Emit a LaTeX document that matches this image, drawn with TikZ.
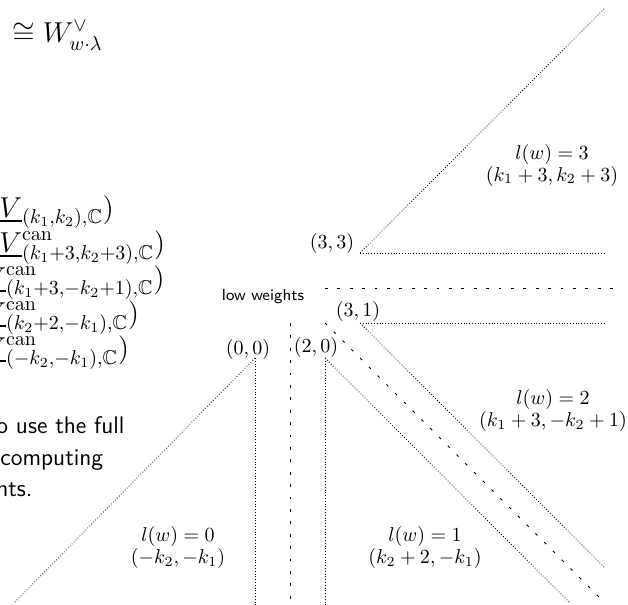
\documentclass[tikz,border=0pt]{standalone}
\usepackage{amssymb}
\begin{document}
\begin{tikzpicture}[x=0.5pt,y=-0.5pt,
  wall/.style={densely dotted, line width=0.4pt},
  lowwall/.style={dash pattern=on 1.4pt off 4.8pt, line width=0.5pt},
  lab/.style={inner sep=0pt, font=\fontsize{10}{12}\selectfont},
  chamber/.style={align=center, inner sep=0pt, font=\fontsize{10}{9.5}\selectfont},
  formula/.style={anchor=base west, inner sep=0pt, font=\fontsize{14.4}{17}\selectfont},
  body/.style={anchor=base west, inner sep=0pt, font=\fontsize{12}{14.5}\sffamily}]
\useasboundingbox (0,0) rectangle (628,605);
\clip (0,0) rectangle (628,605);
% lattice vertices
\coordinate (p00) at (255,358);
\coordinate (p20) at (325,358);
\coordinate (p31) at (360,323);
\coordinate (p33) at (360,253);
\coordinate (q10) at (290,323);
\coordinate (q21) at (325,323);
\coordinate (q22) at (325,288);
% free ends
\coordinate (e00d) at (14,603);
\coordinate (e00v) at (255,605);
\coordinate (e10v) at (290,605);
\coordinate (e20v) at (325,605);
\coordinate (e20d) at (570,603);
\coordinate (e21d) at (605,603);
\coordinate (e31d) at (605,568);
\coordinate (e31h) at (605,323);
\coordinate (e22h) at (622,288);
\coordinate (e33h) at (605,253);
\coordinate (e33d) at (605,8);
% walls
\draw[wall] (p00) -- (e00d);
\draw[wall] (p00) -- (e00v);
\draw[wall] (p20) -- (e20v);
\draw[wall] (p20) -- (e20d);
\draw[wall] (p31) -- (e31d);
\draw[wall] (p31) -- (e31h);
\draw[wall] (p33) -- (e33h);
\draw[wall] (p33) -- (e33d);
\draw[lowwall] (q10) -- (e10v);
\draw[lowwall] (q21) -- (e21d);
\draw[lowwall] (q22) -- (e22h);
% vertex labels
\node[lab] (l00) at (248,349) {$(0,0)$};
\node[lab] (l20) at (316,347) {$(2,0)$};
\node[lab] (l31) at (358,311) {$(3,1)$};
\node[lab] (l33) at (332,244) {$(3,3)$};
\node[inner sep=0pt, font=\fontsize{8}{10}\sffamily] (low) at (263,297) {low weights};
% chamber labels
\node[chamber] (c3) at (552,165) {$l(w)=3$\\$(k_1+3,k_2+3)$};
\node[chamber] (c2) at (553,410) {$l(w)=2$\\$(k_1+3,-k_2+1)$};
\node[chamber] (c1) at (425,547) {$l(w)=1$\\$(k_2+2,-k_1)$};
\node[chamber] (c0) at (178,547) {$l(w)=0$\\$(-k_2,-k_1)$};
% text on the left
\node[formula] (top) at (12,42) {$\cong W^{\vee}_{w\cdot\lambda}$};
\node[formula] (f1) at (-1,217) {$\underline{V}_{(k_1,k_2),\mathbb{C}}\big)$};
\node[formula] (f2) at (-1,252) {$\underline{V}^{\mathrm{can}}_{(k_1+3,k_2+3),\mathbb{C}}\big)$};
\node[formula] (f3) at (-17,287) {$\underline{V}^{\mathrm{can}}_{(k_1+3,-k_2+1),\mathbb{C}}\big)$};
\node[formula] (f4) at (-17,322) {$\underline{V}^{\mathrm{can}}_{(k_2+2,-k_1),\mathbb{C}}\big)$};
\node[formula] (f5) at (-17,357) {$\underline{V}^{\mathrm{can}}_{(-k_2,-k_1),\mathbb{C}}\big)$};
\node[body] (t1) at (-4,433) {o use the full};
\node[body] (t2) at (0,465) {computing};
\node[body] (t3) at (-4,496) {nts.};
\end{tikzpicture}
\end{document}
